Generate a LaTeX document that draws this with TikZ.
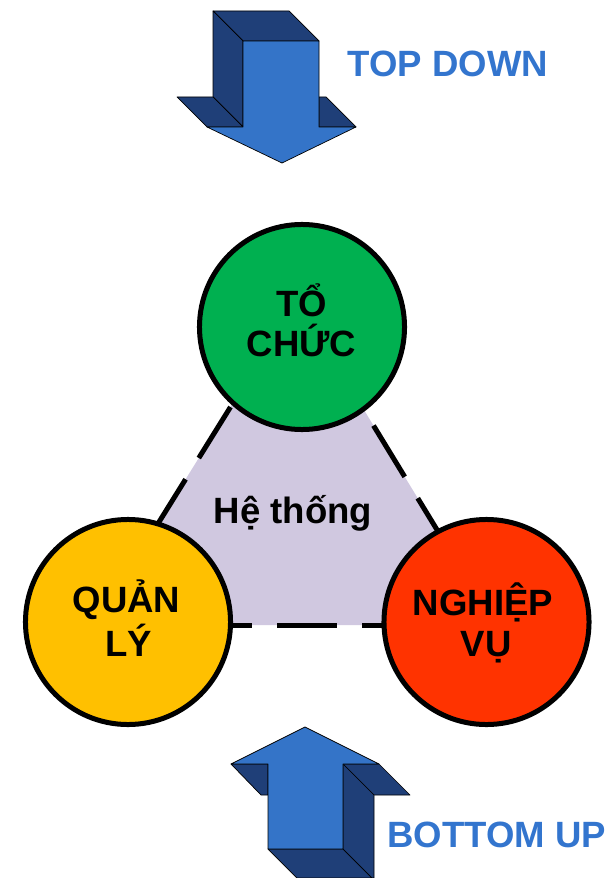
\documentclass[tikz,border=0pt]{standalone}
\usepackage{fontspec}
\setmainfont{Liberation Sans}

\definecolor{toblue}{HTML}{3474C8}
\definecolor{todark}{HTML}{1F3F78}
\definecolor{txtblue}{HTML}{3375CE}
\definecolor{orggreen}{HTML}{00B050}
\definecolor{mgmtyellow}{HTML}{FFC000}
\definecolor{opsred}{HTML}{FF3300}
\definecolor{syslav}{HTML}{D0C8E0}

\begin{document}
\begin{tikzpicture}[
    x=0.025cm, y=-0.025cm,
    ball/.style={circle, draw, line width=0.125cm, inner sep=0pt, minimum size=5.125cm},
    txt/.style={font=\bfseries\fontsize{26}{30}\selectfont, anchor=base, inner sep=0pt},
    edge/.style={line width=0.125cm, dash pattern=on 1.5cm off 0.625cm},
    front/.style={fill=toblue, draw=black, line width=0.5pt, line join=round},
    side/.style={fill=todark, draw=black, line width=0.5pt, line join=round}
]
\useasboundingbox (0,0) rectangle (613,878);

% Mui ten tren
\filldraw[side] (213,11) -- (289,11) -- (319,41) -- (243,41) -- cycle;
\filldraw[side] (213,11) -- (243,41) -- (243,127) -- (213,97) -- cycle;
\filldraw[side] (177,97) -- (213,97) -- (243,127) -- (207,127) -- cycle;
\filldraw[side] (319,97) -- (326,97) -- (356,127) -- (319,127) -- cycle;
\filldraw[front] (243,41) -- (319,41) -- (319,127) -- (356,127) -- (282,163)
    -- (207,127) -- (243,127) -- cycle;
\node[txt, text=txtblue] (topdown) at (448,77) {TOP DOWN};

% Mui ten duoi
\filldraw[side] (231,764) -- (268,764) -- (268,795) -- (261,795) -- cycle;
\filldraw[side] (343,764) -- (379,764) -- (410,795) -- (374,795) -- cycle;
\filldraw[side] (343,764) -- (374,795) -- (374,878) -- (372,878) -- (343,849) -- cycle;
\filldraw[side] (268,849) -- (343,849) -- (372,878) -- (297,878) -- cycle;
\filldraw[front] (305,727) -- (379,764) -- (343,764) -- (343,849) -- (268,849)
    -- (268,764) -- (231,764) -- cycle;
\node[txt, text=txtblue] (bottomup) at (496.5,847) {BOTTOM UP};

% Tam giac he thong
\coordinate (apex) at (297,300);
\coordinate (leftc) at (95,625);
\coordinate (rightc) at (495,625);
\fill[syslav] (apex) -- (leftc) -- (rightc) -- cycle;
\draw[edge, dash phase=1.1cm] (apex) -- (leftc);
\draw[edge, dash phase=0.575cm] (apex) -- (rightc);
\draw[edge, dash phase=1.825cm] (leftc) -- (rightc);
\node[txt] (sys) at (293,523) {Hệ thống};

% Ba vong tron
\node[ball, fill=orggreen] (org) at (302,327) {};
\node[ball, fill=mgmtyellow] (mgmt) at (128,622) {};
\node[ball, fill=opsred] (ops) at (486.5,622) {};

\node[txt] (org1) at (301.5,317) {TỔ};
\node[txt] (org2) at (301.5,357) {CHỨC};
\node[txt] (mgmt1) at (126.5,612) {QUẢN};
\node[txt] (mgmt2) at (128.5,656) {LÝ};
\node[txt] (ops1) at (483,615) {NGHIỆP};
\node[txt] (ops2) at (486,656.5) {VỤ};

\end{tikzpicture}
\end{document}
